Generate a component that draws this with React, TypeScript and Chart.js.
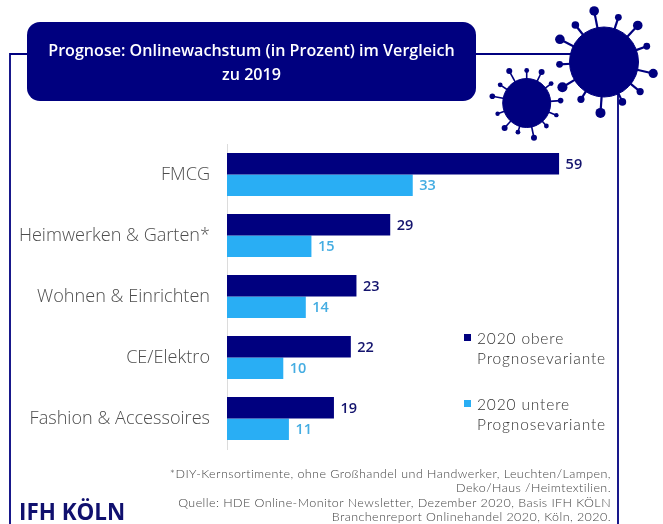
import React, { useEffect, useRef } from "react";
import { Chart, registerables } from "chart.js";

Chart.register(...registerables);

const categories = ["FMCG", "Heimwerken & Garten*", "Wohnen & Einrichten", "CE/Elektro", "Fashion & Accessoires"];
const upperValues = [59, 29, 23, 22, 19];
const lowerValues = [33, 15, 14, 10, 11];
const upperLabel = "2020 obere Prognosevariante";
const lowerLabel = "2020 untere Prognosevariante";
const titleLines = ["Prognose: Onlinewachstum (in Prozent) im Vergleich", "zu 2019"];
const footnoteLines = [
  "*DIY-Kernsortimente, ohne Großhandel und Handwerker, Leuchten/Lampen,",
  "Deko/Haus /Heimtextilien.",
  "Quelle: HDE Online-Monitor Newsletter, Dezember 2020, Basis IFH KÖLN",
  "Branchenreport Onlinehandel 2020, Köln, 2020.",
];

const NAVY = "#00007f";
const SKY = "#29aef4";
const FONT = "Lato, 'Open Sans', sans-serif";

const bigSpikes = [[-101, 17, 4.8], [-72, 12, 3.4], [-47, 15, 4.8], [-20, 11, 3.4], [13, 16, 4.6], [39, 12, 3.6], [65, 9, 3.8], [94, 16, 5], [122, 9, 3.6], [149, 14, 5], [177, 10, 3.4], [-153, 15, 4.8], [-128, 12, 3.8]];
const smallSpikes = [[-119, 12, 3], [-90, 8, 2.4], [-64, 10, 3], [-38, 7, 2.4], [-4, 10, 2.8], [22, 8, 2.2], [49, 6, 2.4], [78, 11, 3], [107, 6, 2.4], [132, 9, 3], [160, 7, 2.2], [-169, 11, 2.8], [-146, 8, 2.4]];

function Virus({ cx, cy, rx, ry, spikes, width }: { cx: number; cy: number; rx: number; ry: number; spikes: number[][]; width: number }) {
  return (
    <g fill={NAVY} stroke={NAVY}>
      <ellipse cx={cx} cy={cy} rx={rx} ry={ry} />
      {spikes.map(([a, l, d], i) => {
        const r = (a * Math.PI) / 180;
        const x0 = cx + rx * Math.cos(r) * 0.95;
        const y0 = cy + ry * Math.sin(r) * 0.95;
        const x1 = cx + (rx + l) * Math.cos(r);
        const y1 = cy + (ry + l) * Math.sin(r);
        return (
          <g key={i}>
            <line x1={x0} y1={y0} x2={x1} y2={y1} strokeWidth={width} />
            <circle cx={x1} cy={y1} r={d} stroke="none" />
          </g>
        );
      })}
    </g>
  );
}

const valueLabels = {
  id: "valueLabels",
  afterDatasetsDraw(chart: any) {
    const { ctx } = chart;
    chart.data.datasets.forEach((ds: any, di: number) => {
      chart.getDatasetMeta(di).data.forEach((bar: any, i: number) => {
        ctx.save();
        ctx.font = `600 14.5px 'Open Sans', sans-serif`;
        ctx.fillStyle = di === 0 ? "#14146e" : "#45ade2";
        ctx.textAlign = "left";
        ctx.textBaseline = "middle";
        ctx.fillText(String(ds.data[i]), bar.x + 6.5, bar.y + 1);
        ctx.restore();
      });
    });
  },
};

const abs = (o: React.CSSProperties): React.CSSProperties => ({ position: "absolute", ...o });

function LegendEntry({ top, color, label }: { top: number; color: string; label: string }) {
  const [a, b, c] = label.split(" ");
  return (
    <>
      <div style={abs({ left: 464, top: top - 4, width: 7, height: 7, background: color })} />
      <div style={abs({ left: 477, top: top - 10, fontFamily: FONT, fontWeight: 300, fontSize: 15.5, lineHeight: "20px", letterSpacing: 0.85, color: "#333", whiteSpace: "nowrap" })}>
        {a} {b}
        <br />
        {c}
      </div>
    </>
  );
}

export default function App() {
  const ref = useRef<HTMLCanvasElement>(null);
  useEffect(() => {
    const chart = new Chart(ref.current!, {
      type: "bar",
      data: {
        labels: categories,
        datasets: [
          { label: upperLabel, data: upperValues, backgroundColor: NAVY, categoryPercentage: 0.705, barPercentage: 1 },
          { label: lowerLabel, data: lowerValues, backgroundColor: SKY, categoryPercentage: 0.705, barPercentage: 1 },
        ],
      },
      plugins: [valueLabels],
      options: {
        indexAxis: "y",
        responsive: false,
        animation: false,
        layout: { padding: { top: 144, bottom: 75, right: 42, left: 0 } },
        plugins: { legend: { display: false }, title: { display: false }, tooltip: { enabled: false } },
        scales: {
          x: { display: false, min: 0, max: 70 },
          y: {
            afterFit(scale: any) {
              scale.width = 227;
            },
            grid: { display: false, drawTicks: false },
            border: { display: true, color: "#dcdcdc", width: 1 },
            ticks: {
              padding: 17,
              color: "#4d4d4d",
              font: { family: "'Open Sans', sans-serif", size: 18.1, weight: "300" as any },
            },
          },
        },
      },
    } as any);
    return () => chart.destroy();
  }, []);

  return (
    <div style={abs({ left: 0, top: 0, width: 663, height: 524, background: "#fff", overflow: "hidden" })}>
      <svg width={663} height={524} style={abs({ left: 0, top: 0 })}>
        <path d="M10 524 V54 H40 M460 54 H590 M618 90 V524" fill="none" stroke={NAVY} strokeWidth={1.8} />
      </svg>
      <canvas ref={ref} width={663} height={524} style={abs({ left: 0, top: 0 })} />
      <svg width={663} height={524} style={abs({ left: 0, top: 0 })}>
        <rect x={27} y={22} width={449} height={79} rx={13} fill={NAVY} />
        <Virus cx={604} cy={62} rx={34.5} ry={35} spikes={bigSpikes} width={2.2} />
        <Virus cx={526.7} cy={103} rx={24} ry={24.5} spikes={smallSpikes} width={1.6} />
      </svg>
      <div style={abs({ left: 27, top: 39, width: 449, textAlign: "center", color: "#fff", fontFamily: "'Open Sans', sans-serif", fontWeight: 600, fontSize: 16.1, lineHeight: "23.5px", whiteSpace: "nowrap" })}>
        {titleLines.map((t) => (
          <div key={t}>{t}</div>
        ))}
      </div>
      <LegendEntry top={338} color={NAVY} label={upperLabel} />
      <LegendEntry top={404} color={SKY} label={lowerLabel} />
      <div style={abs({ right: 52, top: 467, textAlign: "right", fontFamily: FONT, fontWeight: 300, fontSize: 12.5, lineHeight: "14.3px", letterSpacing: 0.43, color: "#444", whiteSpace: "nowrap" })}>
        {footnoteLines.map((t) => (
          <div key={t}>{t}</div>
        ))}
      </div>
      <div style={abs({ left: 19, top: 499, fontFamily: "'Open Sans', sans-serif", fontWeight: 700, fontSize: 22.4, lineHeight: "26px", color: "#10106e", whiteSpace: "nowrap" })}>IFH KÖLN</div>
    </div>
  );
}
